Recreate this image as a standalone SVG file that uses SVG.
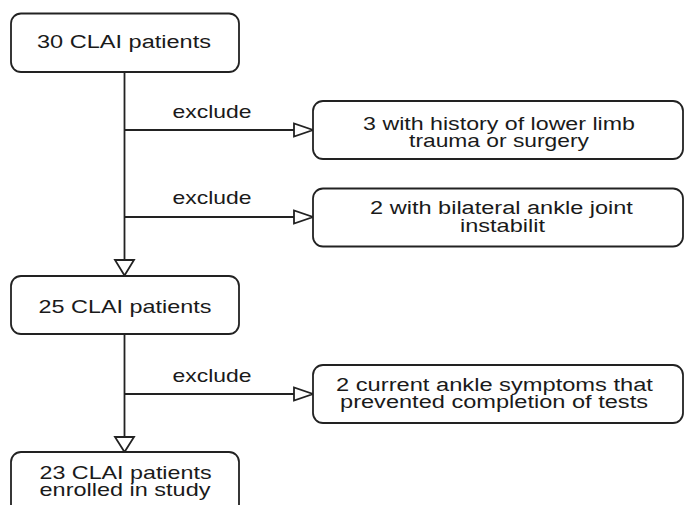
<svg xmlns="http://www.w3.org/2000/svg" width="684" height="505" viewBox="0 0 684 505">
<style>
.box{fill:#fff;stroke:#222;stroke-width:1.8}
.ln{fill:none;stroke:#222;stroke-width:1.8}
.ah{fill:#fff;stroke:#222;stroke-width:1.8;stroke-linejoin:miter}
text{font-family:"Liberation Sans",Arial,sans-serif;fill:#1a1a1a;text-anchor:middle;font-size:18px}
</style>
<rect width="684" height="505" fill="#fff"/>
<g id="connectors">
<line class="ln" x1="124.5" y1="72" x2="124.5" y2="260"/>
<polygon class="ah" points="115,260 134,260 124.5,275.5"/>
<line class="ln" x1="124.5" y1="334" x2="124.5" y2="437"/>
<polygon class="ah" points="115,437 134,437 124.5,452"/>
<line class="ln" x1="124.5" y1="130" x2="294" y2="130"/>
<polygon class="ah" points="294,123.5 294,136.5 313,130"/>
<line class="ln" x1="124.5" y1="217" x2="294" y2="217"/>
<polygon class="ah" points="294,210.5 294,223.5 313,217"/>
<line class="ln" x1="124.5" y1="394" x2="294" y2="394"/>
<polygon class="ah" points="294,387.5 294,400.5 313,394"/>
<text transform="translate(212,117.5) scale(1.274,1)">exclude</text>
<text transform="translate(212,204) scale(1.274,1)">exclude</text>
<text transform="translate(212,381.5) scale(1.274,1)">exclude</text>
</g>
<g id="n30">
<rect class="box" x="11" y="13.5" width="228" height="58.5" rx="10"/>
<text transform="translate(124,47.5) scale(1.308,1)">30 CLAI patients</text>
</g>
<g id="ex1">
<rect class="box" x="313" y="101" width="370" height="58" rx="10"/>
<text transform="translate(499,129.5) scale(1.289,1)">3 with history of lower limb</text>
<text transform="translate(499,146.7) scale(1.267,1)">trauma or surgery</text>
</g>
<g id="ex2">
<rect class="box" x="313" y="188.5" width="370" height="58" rx="10"/>
<text transform="translate(501.5,213.5) scale(1.308,1)">2 with bilateral ankle joint</text>
<text transform="translate(502.5,231.7) scale(1.307,1)">instabilit</text>
</g>
<g id="n25">
<rect class="box" x="11" y="276" width="228" height="58" rx="10"/>
<text transform="translate(125,312.5) scale(1.3,1)">25 CLAI patients</text>
</g>
<g id="ex3">
<rect class="box" x="313" y="365" width="370" height="58" rx="10"/>
<text transform="translate(494.5,390.7) scale(1.315,1)">2 current ankle symptoms that</text>
<text transform="translate(494,408.3) scale(1.31,1)">prevented completion of tests</text>
</g>
<g id="n23">
<rect class="box" x="11" y="452" width="228" height="70" rx="10"/>
<text transform="translate(125.5,478.5) scale(1.293,1)">23 CLAI patients</text>
<text transform="translate(125,496) scale(1.305,1)">enrolled in study</text>
</g>
</svg>
